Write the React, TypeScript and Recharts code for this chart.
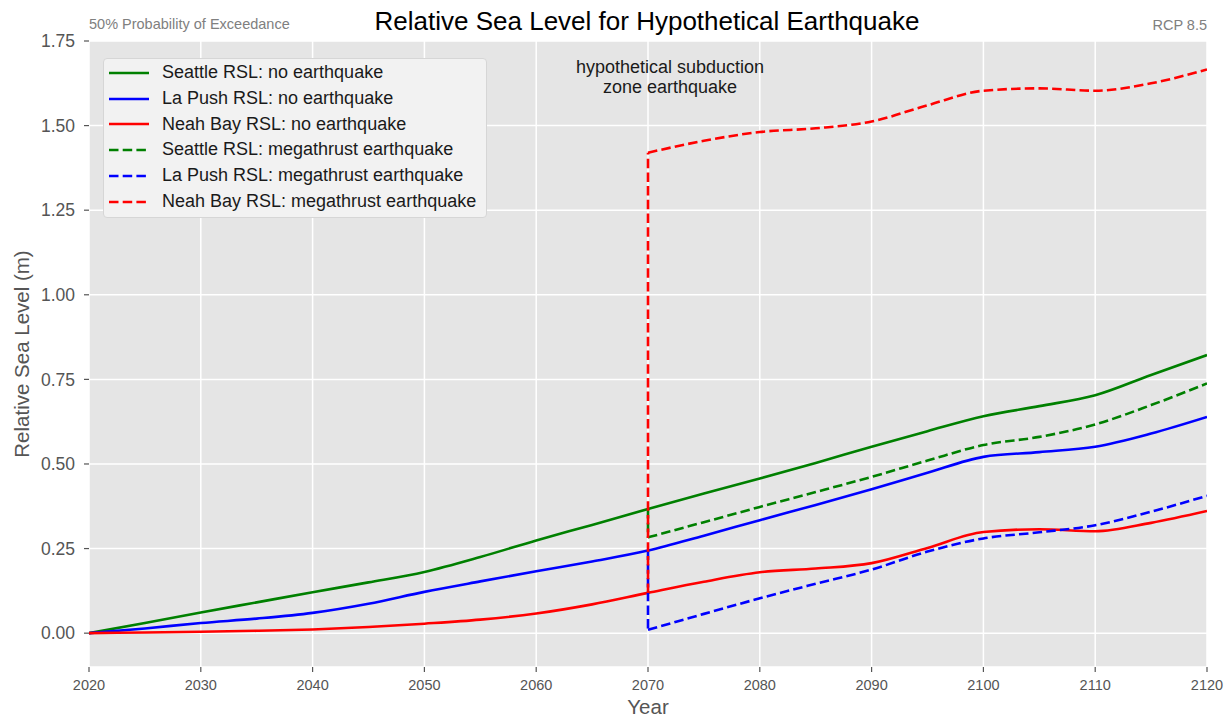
import React from 'react';
import { LineChart, Line, XAxis, YAxis, CartesianGrid, Legend } from 'recharts';

// ---- data ----
const years = [2020, 2025, 2030, 2035, 2040, 2045, 2050, 2055, 2060, 2065, 2070, 2075, 2080, 2085, 2090, 2095, 2100, 2105, 2110, 2115, 2120];
const seattleNoQuake = [0, 0.03, 0.061, 0.091, 0.121, 0.15, 0.181, 0.225, 0.274, 0.32, 0.367, 0.413, 0.457, 0.503, 0.551, 0.597, 0.641, 0.671, 0.703, 0.763, 0.822];
const laPushNoQuake = [0, 0.014, 0.03, 0.043, 0.06, 0.087, 0.122, 0.153, 0.183, 0.212, 0.244, 0.288, 0.334, 0.379, 0.425, 0.474, 0.521, 0.535, 0.551, 0.59, 0.639];
const neahBayNoQuake = [0, 0.002, 0.004, 0.007, 0.011, 0.018, 0.028, 0.04, 0.058, 0.085, 0.119, 0.152, 0.18, 0.191, 0.207, 0.252, 0.299, 0.307, 0.301, 0.326, 0.361];

const quakeYear = 2070;
const quakeYears = [2070, 2075, 2080, 2085, 2090, 2095, 2100, 2105, 2110, 2115, 2120];
const seattleQuake = [0.283, 0.328, 0.373, 0.417, 0.462, 0.51, 0.556, 0.58, 0.617, 0.674, 0.738];
const laPushQuake = [0.01, 0.057, 0.103, 0.146, 0.188, 0.241, 0.28, 0.298, 0.319, 0.359, 0.406];
const neahBayQuake = [1.42, 1.455, 1.481, 1.492, 1.512, 1.56, 1.603, 1.61, 1.603, 1.625, 1.666];

const xTicks = [2020, 2030, 2040, 2050, 2060, 2070, 2080, 2090, 2100, 2110, 2120];
const yTicks = [0, 0.25, 0.5, 0.75, 1.0, 1.25, 1.5, 1.75];

const GREEN = '#008000';
const BLUE = '#0000ff';
const RED = '#ff0000';
const DASH = '9.5 4.2';
const LW = 2.6;

const toPts = (xs: number[], ys: number[]) => xs.map((x, i) => ({ x, y: ys[i] }));

const solidSeries = [
  { name: 'Seattle RSL: no earthquake', color: GREEN, data: toPts(years, seattleNoQuake) },
  { name: 'La Push RSL: no earthquake', color: BLUE, data: toPts(years, laPushNoQuake) },
  { name: 'Neah Bay RSL: no earthquake', color: RED, data: toPts(years, neahBayNoQuake) },
];

const preIndex = years.indexOf(quakeYear);
const dashedSeries = [
  { name: 'Seattle RSL: megathrust earthquake', color: GREEN, pre: seattleNoQuake[preIndex], data: toPts(quakeYears, seattleQuake) },
  { name: 'La Push RSL: megathrust earthquake', color: BLUE, pre: laPushNoQuake[preIndex], data: toPts(quakeYears, laPushQuake) },
  { name: 'Neah Bay RSL: megathrust earthquake', color: RED, pre: neahBayNoQuake[preIndex], data: toPts(quakeYears, neahBayQuake) },
];

const FONT = '"Liberation Sans", Arial, Helvetica, sans-serif';

const renderLegend = () => (
  <div
    style={{
      boxSizing: 'border-box',
      width: 384,
      height: 160,
      background: '#f2f2f2',
      border: '1px solid #d6d6d6',
      borderRadius: 4,
      fontFamily: FONT,
      fontSize: 18,
      color: '#1a1a1a',
      paddingTop: 1,
    }}
  >
    {[...solidSeries.map((s) => ({ ...s, dashed: false })), ...dashedSeries.map((s) => ({ ...s, dashed: true }))].map((s) => (
      <div key={s.name} style={{ height: 25.8, display: 'flex', alignItems: 'center', position: 'relative' }}>
        <svg width={40} height={6} style={{ position: 'absolute', left: 5 }}>
          <line x1={0} y1={3} x2={40} y2={3} stroke={s.color} strokeWidth={LW} strokeDasharray={s.dashed ? DASH : undefined} />
        </svg>
        <span style={{ position: 'absolute', left: 58, whiteSpace: 'nowrap', lineHeight: '25.8px' }}>{s.name}</span>
      </div>
    ))}
  </div>
);

export default function App() {
  return (
    <div style={{ position: 'absolute', left: 0, top: 0, width: 1230, height: 719, background: '#fff', fontFamily: FONT }}>
      <LineChart width={1230} height={719} margin={{ top: 41, right: 23, bottom: 22, left: 9 }}>
        <CartesianGrid fill="#e5e5e5" stroke="#ffffff" strokeWidth={1.5} strokeOpacity={1} />
        <XAxis
          type="number"
          dataKey="x"
          domain={[2020, 2120]}
          ticks={xTicks}
          allowDataOverflow
          height={30}
          axisLine={false}
          tickLine={{ stroke: '#555555', strokeWidth: 1.2 }}
          tickSize={5}
          tickMargin={8}
          tick={{ fill: '#555555', fontSize: 14.5, fontFamily: FONT }}
        />
        <YAxis
          type="number"
          dataKey="y"
          domain={[-0.1, 1.75]}
          ticks={yTicks}
          allowDataOverflow
          width={80}
          axisLine={false}
          tickLine={{ stroke: '#555555', strokeWidth: 1.2 }}
          tickSize={5}
          tickMargin={9}
          tickFormatter={(v: number) => v.toFixed(2)}
          tick={{ fill: '#555555', fontSize: 17.5, fontFamily: FONT }}
        />
        {solidSeries.map((s) => (
          <Line
            key={s.name}
            data={s.data}
            dataKey="y"
            name={s.name}
            type="monotone"
            stroke={s.color}
            strokeWidth={LW}
            dot={false}
            activeDot={false}
            isAnimationActive={false}
          />
        ))}
        {dashedSeries.flatMap((s) => [
          <Line
            key={s.name + '-jump'}
            data={[{ x: quakeYear, y: s.pre }, { x: quakeYear, y: s.data[0].y }]}
            dataKey="y"
            name={s.name + ' jump'}
            type="linear"
            stroke={s.color}
            strokeWidth={LW}
            strokeDasharray={DASH}
            dot={false}
            activeDot={false}
            legendType="none"
            isAnimationActive={false}
          />,
          <Line
            key={s.name}
            data={s.data}
            dataKey="y"
            name={s.name}
            type="monotone"
            stroke={s.color}
            strokeWidth={LW}
            strokeDasharray={DASH}
            dot={false}
            activeDot={false}
            isAnimationActive={false}
          />,
        ])}
        <Legend
          layout="horizontal"
          align="center"
          verticalAlign="middle"
          content={renderLegend}
          wrapperStyle={{ position: 'absolute', left: 103, top: 58, width: 384, height: 160 }}
        />
      </LineChart>
      <svg width={1230} height={719} style={{ position: 'absolute', left: 0, top: 0, pointerEvents: 'none' }}>
        <text x={647} y={30} textAnchor="middle" fontSize={26} fill="#000" fontFamily={FONT}>
          Relative Sea Level for Hypothetical Earthquake
        </text>
        <text x={89} y={29} textAnchor="start" fontSize={14.5} fill="#808080" fontFamily={FONT}>
          50% Probability of Exceedance
        </text>
        <text x={1207} y={30} textAnchor="end" fontSize={14.5} fill="#808080" fontFamily={FONT}>
          RCP 8.5
        </text>
        <text x={670} y={73} textAnchor="middle" fontSize={18} fill="#1a1a1a" fontFamily={FONT}>
          hypothetical subduction
        </text>
        <text x={670} y={93} textAnchor="middle" fontSize={18} fill="#1a1a1a" fontFamily={FONT}>
          zone earthquake
        </text>
        <text
          x={29}
          y={354}
          textAnchor="middle"
          fontSize={20.5}
          fill="#555555"
          fontFamily={FONT}
          transform="rotate(-90 29 354)"
        >
          Relative Sea Level (m)
        </text>
        <text x={648} y={714} textAnchor="middle" fontSize={20.5} fill="#555555" fontFamily={FONT}>
          Year
        </text>
      </svg>
    </div>
  );
}
